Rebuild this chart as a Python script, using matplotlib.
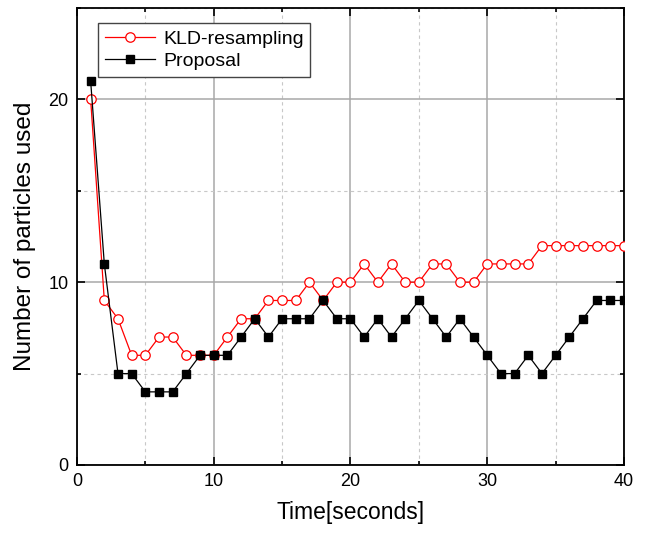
import matplotlib

matplotlib.use("agg")
import matplotlib.pyplot as plt
from matplotlib.ticker import MultipleLocator

plt.rcParams["font.family"] = ["Liberation Sans", "DejaVu Sans"]

seconds = list(range(1, 41))
kld_particles = [20, 9, 8, 6, 6, 7, 7, 6, 6, 6,
                 7, 8, 8, 9, 9, 9, 10, 9, 10, 10,
                 11, 10, 11, 10, 10, 11, 11, 10, 10, 11,
                 11, 11, 11, 12, 12, 12, 12, 12, 12, 12]
proposal_particles = [21, 11, 5, 5, 4, 4, 4, 5, 6, 6,
                      6, 7, 8, 7, 8, 8, 8, 9, 8, 8,
                      7, 8, 7, 8, 9, 8, 7, 8, 7, 6,
                      5, 5, 6, 5, 6, 7, 8, 9, 9, 9]

fig = plt.figure(figsize=(6.49, 5.36), dpi=100)
ax = fig.add_axes([0.1186, 0.1325, 0.8429, 0.8525])

ax.plot(seconds, kld_particles, color="red", linewidth=0.9, marker="o",
        markersize=6.8, markerfacecolor="white", markeredgecolor="red",
        markeredgewidth=0.9, label="KLD-resampling", zorder=3)
ax.plot(seconds, proposal_particles, color="black", linewidth=0.9, marker="s",
        markersize=6, markerfacecolor="black", markeredgecolor="black",
        label="Proposal", zorder=4)

ax.set_xlim(0, 40)
ax.set_ylim(0, 25)
ax.xaxis.set_major_locator(MultipleLocator(10))
ax.xaxis.set_minor_locator(MultipleLocator(5))
ax.yaxis.set_major_locator(MultipleLocator(10))
ax.yaxis.set_minor_locator(MultipleLocator(5))

# solid major grid, dashed minor grid
ax.grid(True, which="major", color="#a8a8a8", linewidth=1.1, linestyle="-")
ax.grid(True, which="minor", color="#c8c8c8", linewidth=0.8, linestyle=(0, (3, 3)))
ax.set_axisbelow(True)

ax.tick_params(which="both", direction="in", top=True, right=True, labelsize=13,
               width=1.2, color="black")
ax.tick_params(which="major", length=6, pad=6)
ax.tick_params(which="minor", length=3)
for spine in ax.spines.values():
    spine.set_linewidth(1.3)

ax.set_xlabel("Time[seconds]", fontsize=16.5, labelpad=8)
ax.set_ylabel("Number of particles used", fontsize=17.5, labelpad=9)

leg = ax.legend(loc="upper left", bbox_to_anchor=(0.038, 0.967), borderaxespad=0,
                fontsize=14, fancybox=False, edgecolor="#444444", framealpha=1,
                handlelength=2.6, handletextpad=0.4, labelspacing=0.25,
                borderpad=0.35)
leg.get_frame().set_linewidth(1.0)

plt.savefig("out.png", dpi=100)
